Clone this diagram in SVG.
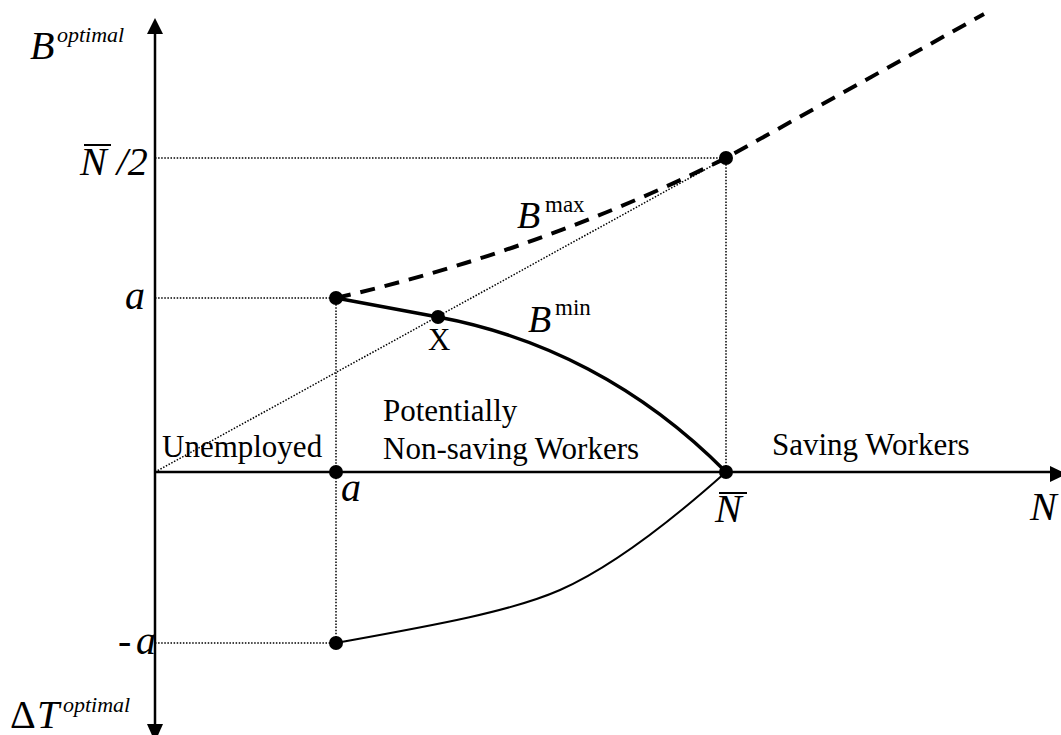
<svg xmlns="http://www.w3.org/2000/svg" width="1061" height="735" viewBox="0 0 1061 735">
<style>
.ax{stroke:#000;stroke-width:2.5;fill:none}
.dot{stroke:#000;stroke-width:1.5;stroke-dasharray:1.5 1.6;fill:none}
.thick{stroke:#000;stroke-width:3.5;fill:none}
.thin{stroke:#000;stroke-width:2;fill:none}
.dash{stroke:#000;stroke-width:4;stroke-dasharray:15 10;fill:none}
.pt{fill:#000}
.it{font-style:italic;font-size:40px}
.sup{font-style:italic;font-size:22px}
.lbl{font-size:31px}
.up{font-size:23px}
</style>
<rect width="1061" height="735" fill="#fff"/>
<g id="axes">
<line class="ax" x1="155" y1="30" x2="155" y2="728"/>
<polygon points="155,18 147,34 163,34"/>
<polygon points="155,742 147,724 163,724"/>
<line class="ax" x1="155" y1="472" x2="1052" y2="472"/>
<polygon points="1067,474 1050,466 1050,482"/>
</g>
<g id="guides">
<line class="dot" x1="155" y1="158" x2="726" y2="158"/>
<line class="dot" x1="155" y1="298" x2="336" y2="298"/>
<line class="dot" x1="155" y1="643" x2="336" y2="643"/>
<line class="dot" x1="336" y1="298" x2="336" y2="643"/>
<line class="dot" x1="726" y1="158" x2="726" y2="472"/>
<line class="dot" x1="155" y1="472" x2="726" y2="158"/>
</g>
<g id="connectors">
<path id="bmax" class="dash" d="M336,298 Q540,251 726,158 L984,14"/>
<path id="bmin" class="thick" d="M336,298 L438,317 C540,336 640,385 726,472"/>
<path id="dt" class="thin" d="M336,643 C430,626 510,612 560,590 C610,568 670,522 726,472"/>
</g>
<g id="points">
<circle class="pt" cx="336" cy="298" r="7"/>
<circle class="pt" cx="438" cy="317" r="7"/>
<circle class="pt" cx="726" cy="158" r="7"/>
<circle class="pt" cx="336" cy="472" r="7"/>
<circle class="pt" cx="726" cy="472" r="7"/>
<circle class="pt" cx="336" cy="643" r="7"/>
</g>
<g id="labels" font-family="'Liberation Serif', 'Times New Roman', 'DejaVu Serif', serif" fill="#000">
<text x="30" y="59" class="it">B</text>
<text x="57" y="42" class="sup">optimal</text>
<text x="80" y="175" class="it">N /2</text>
<line x1="84" y1="145" x2="111" y2="145" stroke="#000" stroke-width="2"/>
<text x="125" y="309" class="it">a</text>
<text x="118" y="654" class="it">-</text>
<text x="136" y="654" class="it">a</text>
<text x="10" y="728" style="font-size:40px">Δ</text>
<text x="37" y="728" class="it">T</text>
<text x="63" y="712" class="sup">optimal</text>
<text x="341" y="501" class="it">a</text>
<text x="715" y="522" class="it">N</text>
<line x1="719" y1="493" x2="747" y2="493" stroke="#000" stroke-width="2"/>
<text x="1030" y="520" class="it">N</text>
<text x="162" y="457" class="lbl">Unemployed</text>
<text x="383" y="421" class="lbl">Potentially</text>
<text x="383" y="459" class="lbl">Non-saving Workers</text>
<text x="772" y="455" class="lbl">Saving Workers</text>
<text x="428" y="350" class="lbl">X</text>
<text x="517" y="228" class="it" style="font-size:38px">B</text>
<text x="545" y="212" class="up">max</text>
<text x="528" y="332" class="it" style="font-size:38px">B</text>
<text x="555" y="315" class="up">min</text>
</g>
</svg>
